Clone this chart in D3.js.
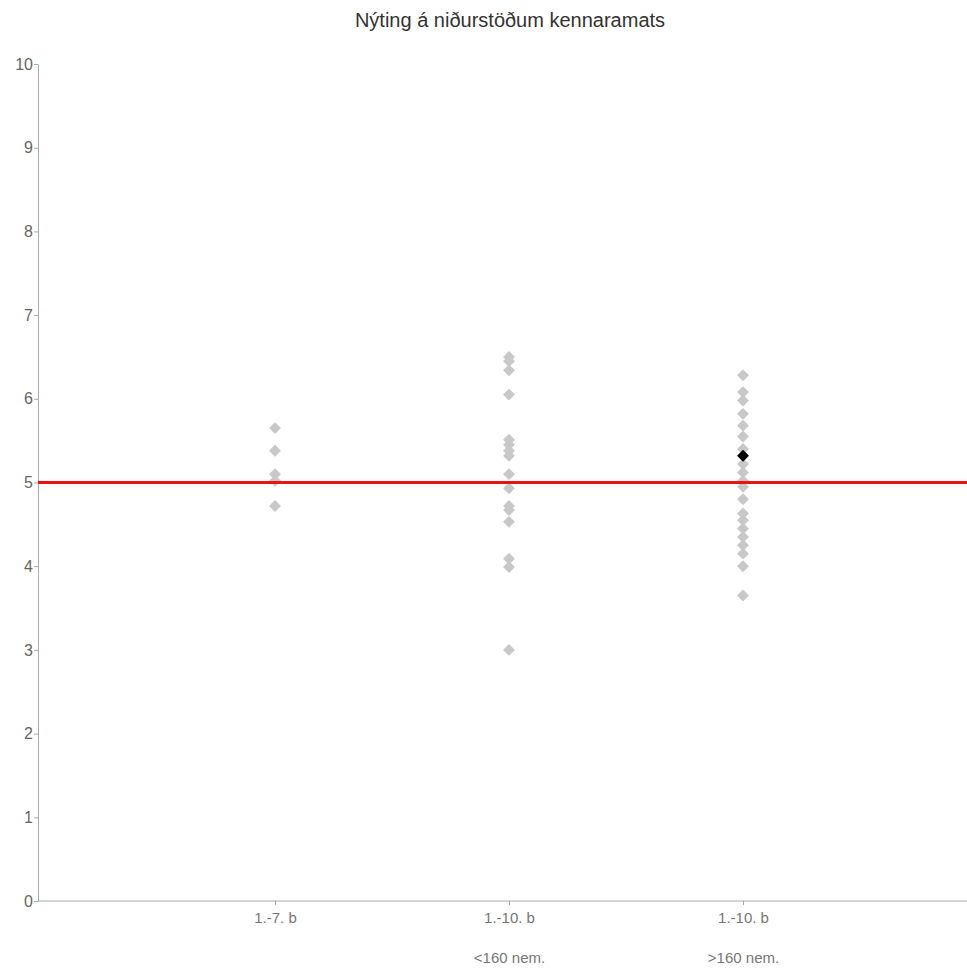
<!DOCTYPE html>
<html>
<head>
<meta charset="utf-8">
<script src="https://cdn.jsdelivr.net/npm/d3@7"></script>
<style>
  body { margin: 0; background: #fff; }
  svg { display: block; font-family: "Liberation Sans", Arial, sans-serif; }
</style>
</head>
<body>
<svg id="chart" width="967" height="969"></svg>
<script>
const title = "Nýting á niðurstöðum kennaramats";
const categories = ["1.-7. b", "1.-10. b <160", "1.-10. b >160"];
const categoryLabels = [["1.-7. b"], ["1.-10. b", "<160 nem."], ["1.-10. b", ">160 nem."]];
const group1 = [5.65, 5.38, 5.10, 5.02, 4.72];
const group2 = [6.50, 6.45, 6.34, 6.05, 5.51, 5.45, 5.38, 5.32, 5.10, 4.93, 4.72, 4.67, 4.53, 4.09, 3.99, 3.00];
const group3 = [6.28, 6.08, 5.98, 5.82, 5.68, 5.55, 5.40, 5.22, 5.12, 5.02, 4.95, 4.80, 4.63, 4.55, 4.45, 4.35, 4.25, 4.15, 4.00, 3.65];
const highlight = { category: "1.-10. b >160", value: 5.32 };
const referenceValue = 5;
const yTicks = [0, 1, 2, 3, 4, 5, 6, 7, 8, 9, 10];

(function () {
const svg = d3.select("#chart");
const mLeft = 38, mRight = 967, mTop = 64, mBottom = 901;

const x = d3.scalePoint().domain(categories).range([41, 977]).padding(1);
const y = d3.scaleLinear().domain([0, 10]).range([mBottom, mTop]);

svg.append("text")
  .attr("x", 510).attr("y", 27)
  .attr("text-anchor", "middle")
  .attr("font-size", 20)
  .attr("fill", "#333")
  .text(title);

// y axis
const yAxis = svg.append("g")
  .attr("transform", `translate(${mLeft},0)`)
  .call(d3.axisLeft(y).tickValues(yTicks).tickSize(4).tickSizeOuter(0).tickPadding(1));
yAxis.select(".domain").attr("stroke", "#aaa");
yAxis.selectAll(".tick line").attr("stroke", "#aaa");
yAxis.selectAll(".tick text").attr("fill", "#666").attr("font-size", 16).attr("font-family", "Liberation Sans, Arial, sans-serif");

// x axis
const xAxis = svg.append("g")
  .attr("transform", `translate(0,${mBottom})`)
  .call(d3.axisBottom(x).tickSize(4).tickSizeOuter(0).tickFormat(""));
xAxis.select(".domain").attr("stroke", "#aaa").attr("d", `M${mLeft},0H${mRight}`);
xAxis.selectAll(".tick line").attr("stroke", "#aaa");
xAxis.selectAll(".tick").each(function(d, i) {
  const g = d3.select(this);
  categoryLabels[i].forEach((line, j) => {
    g.append("text")
      .attr("y", 22 + j * 40)
      .attr("text-anchor", "middle")
      .attr("fill", "#777")
      .attr("font-size", 15)
      .attr("font-family", "Liberation Sans, Arial, sans-serif")
      .text(line);
  });
});

// points
const pts = [];
[group1, group2, group3].forEach((arr, i) => arr.forEach(v => pts.push({ c: categories[i], v })));
const diamond = d3.symbol().type(d3.symbolDiamond2).size(90);
svg.append("g").selectAll("path").data(pts).join("path")
  .attr("d", diamond)
  .attr("transform", d => `translate(${x(d.c)},${y(d.v)})`)
  .attr("fill", "#c8c8c8");

svg.append("path")
  .attr("d", diamond)
  .attr("transform", `translate(${x(highlight.category)},${y(highlight.value)})`)
  .attr("fill", "#000");

// reference line
svg.append("line")
  .attr("x1", mLeft).attr("x2", mRight)
  .attr("y1", y(referenceValue)).attr("y2", y(referenceValue))
  .attr("stroke", "#ee1111").attr("stroke-width", 3);
})();
</script>
</body>
</html>
